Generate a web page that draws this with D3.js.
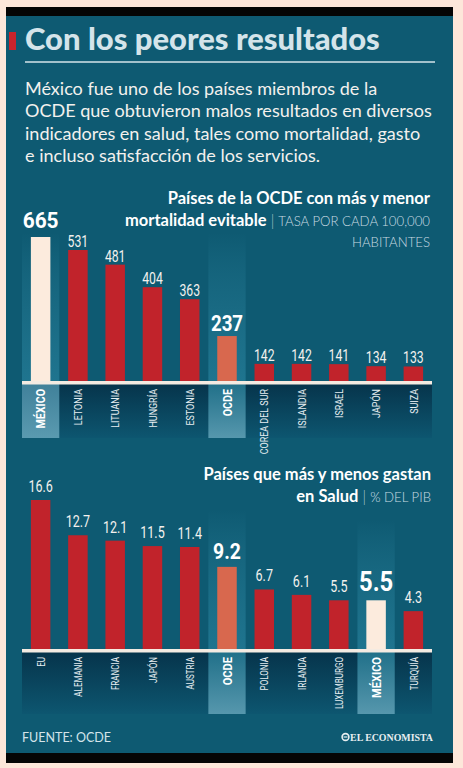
<!DOCTYPE html>
<html><head><meta charset="utf-8">
<script src="https://cdn.jsdelivr.net/npm/d3@7"></script>
<style>html,body{margin:0;padding:0;background:#fde7da;} svg{display:block}</style>
</head><body>
<svg id="c" width="463" height="768"></svg>
<script>
// ---------- DATA ----------
const mortCategories = ["MÉXICO","LETONIA","LITUANIA","HUNGRÍA","ESTONIA","OCDE","COREA DEL SUR","ISLANDIA","ISRAEL","JAPÓN","SUIZA"];
const mortValues = [665,531,481,404,363,237,142,142,141,134,133];
const gastoCategories = ["EU","ALEMANIA","FRANCIA","JAPÓN","AUSTRIA","OCDE","POLONIA","IRLANDA","LUXEMBURGO","MÉXICO","TURQUÍA"];
const gastoValues = [16.6,12.7,12.1,11.5,11.4,9.2,6.7,6.1,5.5,5.5,4.3];
const headline = "Con los peores resultados";
const introLines = [
  "México fue uno de los países miembros de la",
  "OCDE que obtuvieron malos resultados en diversos",
  "indicadores en salud, tales como mortalidad, gasto",
  "e incluso satisfacción de los servicios."
];
const source = "FUENTE: OCDE";
const brand = "EL ECONOMISTA";

// ---------- SETUP ----------
const svg = d3.select("#c");
const W = 463, H = 768;
const C = {
  peach:"#fde7da", panel:"#0e5a72", black:"#050505", title:"#d4e4ea", text:"#f3f1ee",
  red:"#c1232b", ocde:"#d8684e", mex:"#fcebdd", base:"#f4ebe2", sub:"#c9dbe2"
};
const defs = svg.append("defs");
function vgrad(id, stops){
  const g = defs.append("linearGradient").attr("id",id).attr("x1",0).attr("y1",0).attr("x2",0).attr("y2",1);
  stops.forEach(s=>g.append("stop").attr("offset",s[0]).attr("stop-color",s[1]).attr("stop-opacity",s[2]===undefined?1:s[2]));
}
vgrad("colHL",[[0,"#3a97b2",0],[0.35,"#2f8aa5",0.25],[1,"#2a86a2",0.6]]);
vgrad("band",[[0,"#06334a"],[1,"#0d5670"]]);
vgrad("cellHL",[[0,"#1f6f88"],[1,"#5697ad"]]);
vgrad("cellMex",[[0,"#3f8099"],[1,"#5a9ab0"]]);

svg.append("rect").attr("width",W).attr("height",H).attr("fill",C.peach);
svg.append("rect").attr("x",6).attr("y",7).attr("width",447).attr("height",756).attr("fill",C.panel);
svg.append("rect").attr("x",6).attr("y",7).attr("width",447).attr("height",9).attr("fill",C.black);
svg.append("rect").attr("x",6).attr("y",753).attr("width",447).attr("height",10).attr("fill",C.black);

// headline
svg.append("rect").attr("x",9).attr("y",32).attr("width",7).attr("height",18).attr("fill","#c9242c");
const ht = svg.append("text").attr("x",25).attr("y",50).attr("fill",C.title)
  .attr("font-family","Lato, 'Open Sans', sans-serif").attr("font-weight",900).attr("font-size",24).text(headline);
function fit(sel, target){ const w = sel.node().getComputedTextLength(); const fs = parseFloat(sel.attr("font-size")); const n = fs*target/w; sel.attr("font-size", n); return n; }
fit(ht, 355);
svg.append("line").attr("x1",25).attr("x2",435).attr("y1",62).attr("y2",62).attr("stroke",C.title).attr("stroke-width",1.5);

// intro paragraph
const introG = svg.append("g").attr("font-family","Lato, 'Open Sans', sans-serif").attr("fill",C.text);
const probe = introG.append("text").attr("font-size",20).text(introLines[1]);
const pfs = 20*407/probe.node().getComputedTextLength();
probe.remove();
introLines.forEach((l,i)=>introG.append("text").attr("x",25).attr("y",95+i*22.4).attr("font-size",pfs).text(l));

// ---------- CHART FUNCTION ----------
function drawChart(o){
  const g = svg.append("g");
  const x = d3.scaleBand().domain(o.categories).range([22,432]);
  const step = x.step(), bw = 19.5;
  const y = o.y;
  const base = o.base;
  g.append("rect").attr("x",22).attr("y",base).attr("width",410).attr("height",o.bandBottom-base).attr("fill","url(#band)");
  o.categories.forEach((c,i)=>{
    if(c==="OCDE"||c==="MÉXICO"){
      g.append("rect").attr("x",x(c)).attr("y",o.colTop[c]).attr("width",step).attr("height",base-o.colTop[c]).attr("fill","url(#colHL)");
      g.append("rect").attr("x",x(c)).attr("y",base).attr("width",step).attr("height",o.bandBottom-base)
        .attr("fill", (c==="MÉXICO"&&o.mexFlat)?"url(#cellMex)":"url(#cellHL)");
    }
  });
  g.selectAll("rect.bar").data(o.values).join("rect").attr("class","bar")
    .attr("x",(d,i)=>x(o.categories[i])+(step-bw)/2)
    .attr("y",d=>y(d)).attr("width",bw).attr("height",d=>base-y(d))
    .attr("fill",(d,i)=>o.categories[i]==="MÉXICO"?C.mex:(o.categories[i]==="OCDE"?C.ocde:C.red));
  g.append("rect").attr("x",22).attr("y",base-1).attr("width",410).attr("height",3.5).attr("fill",C.base);
  o.values.forEach((d,i)=>{
    const c = o.categories[i];
    const hl = c==="MÉXICO"||c==="OCDE";
    const cx = x(c)+step/2;
    const st = hl ? o.boldStyle[c] : o.normStyle;
    g.append("g").attr("transform",`translate(${cx},${y(d)-st.gap}) scale(${st.sx},1)`)
      .append("text").attr("text-anchor","middle").attr("font-family","Roboto, sans-serif")
      .attr("font-weight",hl?700:400).attr("font-size",st.fs).attr("fill",hl?"#ffffff":C.text)
      .text(o.fmt(d));
  });
  o.categories.forEach(c=>{
    const hl = c==="MÉXICO"||c==="OCDE";
    const cx = x(c)+step/2;
    const fs = hl?o.catBold:o.catFs;
    g.append("g").attr("transform",`translate(${cx+fs*0.36},${base+7}) rotate(-90) scale(${hl?0.82:o.catSx},1)`)
      .append("text").attr("text-anchor","end").attr("font-family","Roboto, sans-serif")
      .attr("font-weight",hl?700:400).attr("font-size",fs).attr("fill",hl?"#ffffff":"#e6eef1")
      .text(c);
  });
  return g;
}

// chart 1: mortality (the graphic uses a compressed, non-zero scale)
const y1 = d3.scaleLinear().domain([80,531,665]).range([382,250,237]);
drawChart({
  categories:mortCategories, values:mortValues, y:y1, base:382, bandBottom:438,
  colTop:{"MÉXICO":233,"OCDE":233}, mexFlat:true,
  fmt:d=>String(d),
  normStyle:{fs:17,sx:0.72,gap:3},
  boldStyle:{"MÉXICO":{fs:22,sx:0.95,gap:9},"OCDE":{fs:22,sx:0.85,gap:5}},
  catFs:11.5, catSx:0.78, catBold:13
});
// chart 2: health spending
const y2 = d3.scaleLinear().domain([0,16.6]).range([650,500]);
drawChart({
  categories:gastoCategories, values:gastoValues, y:y2, base:650, bandBottom:714,
  colTop:{"MÉXICO":520,"OCDE":510}, mexFlat:false,
  fmt:d3.format(".1f"),
  normStyle:{fs:16.5,sx:0.76,gap:8},
  boldStyle:{"MÉXICO":{fs:28,sx:0.85,gap:9},"OCDE":{fs:22,sx:0.88,gap:7.5}},
  catFs:11.5, catSx:0.7, catBold:13.5
});

// chart titles
function chartTitle(lines, right){
  const F = "Lato, 'Open Sans', sans-serif";
  lines.forEach(l=>{
    const t = svg.append("text").attr("x",right).attr("y",l.y).attr("text-anchor","end").attr("font-family",F);
    l.parts.forEach(p=>t.append("tspan").attr("font-weight",p.w).attr("font-size",p.fs).attr("fill",p.c).text(p.t));
  });
}
const TF = 16.5, SF = 13.2;
chartTitle([
  {y:204, parts:[{t:"Países de la OCDE con más y menor",w:700,fs:TF,c:"#ffffff"}]},
  {y:226, parts:[{t:"mortalidad evitable",w:700,fs:TF,c:"#ffffff"},{t:"  |  ",w:300,fs:15,c:"#a9c4cd"},{t:"TASA POR CADA 100,000",w:300,fs:SF,c:C.sub}]},
  {y:247, parts:[{t:"HABITANTES",w:300,fs:SF,c:C.sub}]}
], 430);
chartTitle([
  {y:480, parts:[{t:"Países que más y menos gastan",w:700,fs:TF,c:"#ffffff"}]},
  {y:502, parts:[{t:"en Salud",w:700,fs:TF,c:"#ffffff"},{t:"  |  ",w:300,fs:15,c:"#a9c4cd"},{t:"% DEL PIB",w:300,fs:SF,c:C.sub}]}
], 431);

// footer
svg.append("text").attr("x",22).attr("y",742).attr("font-family","Lato, 'Open Sans', sans-serif")
  .attr("font-size",12.5).attr("fill",C.title).text(source);
const bt = svg.append("text").attr("x",433).attr("y",741).attr("text-anchor","end")
  .attr("font-family","'Liberation Serif', 'DejaVu Serif', serif").attr("font-weight",700)
  .attr("font-size",11).attr("fill","#e8eef0").text(brand);
fit(bt, 83);
svg.append("circle").attr("cx",345.5).attr("cy",737).attr("r",3.4).attr("fill","none").attr("stroke","#e8eef0").attr("stroke-width",1.6);
svg.append("path").attr("d","M343.5,737 h4").attr("stroke","#e8eef0").attr("stroke-width",1.2);
</script>
</body></html>
